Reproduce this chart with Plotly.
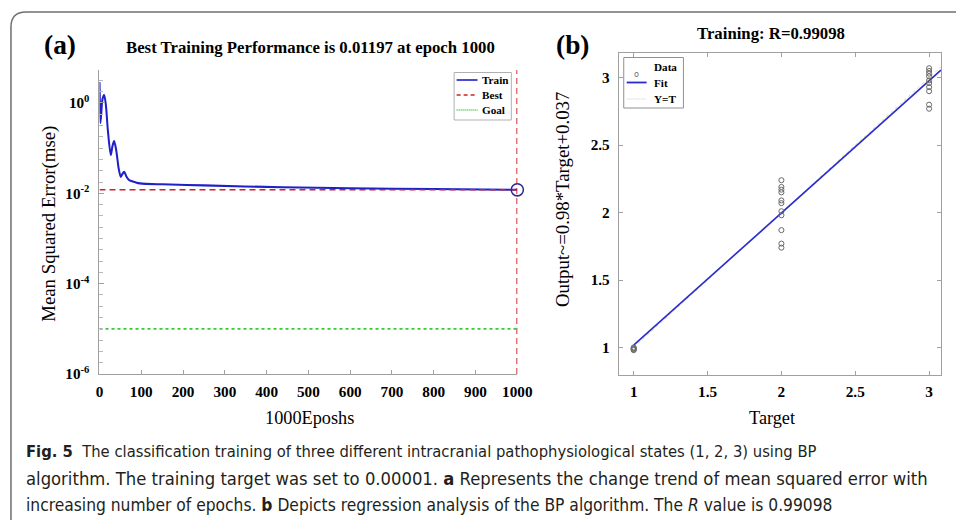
import numpy as np
import plotly.graph_objects as go

# ---------------- data ----------------
# (a) training performance
train_epochs = [0, 1, 2, 4, 7, 11, 15, 20, 27, 31, 35, 40, 46, 51, 55, 59, 64, 70, 76, 86, 97,
                150, 250, 438, 600, 800, 1000]
train_mse = [2.92, 0.9, 0.36, 0.55, 1.2, 1.50, 0.95, 0.25, 0.0705, 0.11, 0.144, 0.09, 0.035,
             0.023, 0.027, 0.030, 0.024, 0.0200, 0.0187, 0.0175, 0.0166,
             0.0158, 0.0150, 0.0136, 0.0129, 0.0124, 0.01197]
best_value = 0.01197
best_epoch = 1000
goal_value = 1e-5
epoch_ticks = [0, 100, 200, 300, 400, 500, 600, 700, 800, 900, 1000]
mse_ticks = [1e-6, 1e-4, 1e-2, 1]
mse_tick_text = ["10<sup>-6</sup>", "10<sup>-4</sup>", "10<sup>-2</sup>", "10<sup>0</sup>"]

# (b) regression
out_t1 = [1.0, 0.995, 0.99, 0.985, 0.98]
out_t2 = [2.24, 2.19, 2.17, 2.15, 2.09, 2.07, 2.01, 1.98, 1.87, 1.77, 1.74]
out_t3 = [3.07, 3.05, 3.03, 3.01, 2.98, 2.96, 2.93, 2.90, 2.80, 2.77]
fit_slope = 0.98
fit_intercept = 0.037
fit_range = [1.0, 3.08]
target_ticks = [1, 1.5, 2, 2.5, 3]
r_value = 0.99098

# layout is designed on a 956x520 grid; S scales sizes to the figure canvas
W, H = 956, 520
S = 971 / 956
FIG_W, FIG_H = 971, 528
SERIF = "Liberation Serif, Times New Roman, serif"
NARROW = "Liberation Sans Narrow, Arial Narrow, DejaVu Sans Condensed, sans-serif"
RED = "#d0202a"


def px(x):
    return x / W


def py(y):
    return 1 - y / H


def sz(v):
    return v * S


fig = go.Figure()

# ---- panel (a) ----
fig.add_trace(go.Scatter(x=train_epochs, y=train_mse, mode="lines",
                         line=dict(color="#2020c8", width=sz(2), shape="spline", smoothing=0.8),
                         xaxis="x", yaxis="y", showlegend=False))
fig.add_trace(go.Scatter(x=[0, best_epoch], y=[best_value, best_value], mode="lines",
                         line=dict(color=RED, width=sz(1.6), dash="6px,4px"),
                         xaxis="x", yaxis="y", showlegend=False))
fig.add_trace(go.Scatter(x=[best_epoch, best_epoch], y=[1e-6, 10 ** 0.73], mode="lines",
                         line=dict(color=RED, width=sz(1.8), dash="6px,4px"), cliponaxis=False,
                         xaxis="x", yaxis="y", showlegend=False))
fig.add_trace(go.Scatter(x=[0, best_epoch], y=[goal_value, goal_value], mode="lines",
                         line=dict(color="#33cc33", width=sz(1.6), dash="dot"),
                         xaxis="x", yaxis="y", showlegend=False))
fig.add_trace(go.Scatter(x=[best_epoch], y=[best_value], mode="markers", cliponaxis=False,
                         marker=dict(symbol="circle-open", size=sz(12), color="#2a2a90",
                                     line=dict(width=sz(1.5), color="#2a2a90")),
                         xaxis="x", yaxis="y", showlegend=False))

# ---- panel (b) ----
targets = [1] * len(out_t1) + [2] * len(out_t2) + [3] * len(out_t3)
outputs = out_t1 + out_t2 + out_t3
fig.add_trace(go.Scatter(x=fit_range, y=fit_range, mode="lines",
                         line=dict(color="#dcdca0", width=1, dash="dot"),
                         xaxis="x2", yaxis="y2", showlegend=False))
fit_x = np.array(fit_range)
fig.add_trace(go.Scatter(x=fit_x, y=fit_slope * fit_x + fit_intercept, mode="lines",
                         line=dict(color="#2b2bd0", width=sz(1.6)),
                         xaxis="x2", yaxis="y2", showlegend=False))
fig.add_trace(go.Scatter(x=targets, y=outputs, mode="markers",
                         marker=dict(symbol="circle-open", size=sz(5), color="#6a6a6a",
                                     line=dict(width=1, color="#6a6a6a")),
                         xaxis="x2", yaxis="y2", showlegend=False))

axis_common = dict(showline=True, linecolor="#a0a0a0", linewidth=1, ticks="inside",
                   tickcolor="#a0a0a0", ticklen=sz(4), showgrid=False, zeroline=False,
                   tickfont=dict(family=SERIF, size=sz(15), color="black", weight="bold"))

fig.update_layout(
    width=FIG_W, height=FIG_H, margin=dict(l=0, r=0, t=0, b=0),
    paper_bgcolor="white", plot_bgcolor="white",
    xaxis=dict(domain=[px(96), px(516)], range=[0, 1000], anchor="y",
               tickvals=epoch_ticks, ticklabelstandoff=4, **axis_common),
    yaxis=dict(domain=[py(374), py(70)], type="log", range=[-6, 0.73], anchor="x",
               tickvals=mse_ticks, ticktext=mse_tick_text, ticklabelstandoff=6,
               minor=dict(ticks="inside", ticklen=sz(3), tickcolor="#b8b8b8",
                          tickvals=[10 ** (k / 4) for k in range(-24, 3)]),
               **axis_common),
    xaxis2=dict(domain=[px(618), px(942)], range=[0.899, 3.081], anchor="y2",
                tickvals=target_ticks, mirror="ticks", ticklabelstandoff=3, **axis_common),
    yaxis2=dict(domain=[py(375), py(53)], range=[0.796, 3.183], anchor="x2",
                tickvals=target_ticks, mirror="ticks", ticklabelstandoff=5, **axis_common),
)

ann = []


def text(x, y, s, size, bold=False, family=SERIF, angle=0, xanchor="center", color="black"):
    ann.append(dict(x=px(x), y=py(y), xref="paper", yref="paper", text=s, showarrow=False,
                    textangle=angle, xanchor=xanchor, yanchor="middle",
                    font=dict(family=family, size=sz(size), color=color,
                              weight="bold" if bold else "normal")))


# panel labels and titles
text(56, 45, "(a)", 27, bold=True)
text(308, 47, f"Best Training Performance is {best_value} at epoch {best_epoch}", 16.5, bold=True)
text(572, 45, "(b)", 27, bold=True)
text(771, 33, f"Training: R={r_value}", 16.5, bold=True)

# axis titles
text(45, 224, "Mean Squared Error(mse)", 18.5, angle=-90)
text(307, 418, "1000Eposhs", 18)
text(562, 200, f"Output~={fit_slope}*Target+{fit_intercept}", 18.5, angle=-90)
text(772, 418, "Target", 18)

# legend (a)
shapes = []
shapes.append(dict(type="rect", xref="paper", yref="paper", x0=px(452.5), x1=px(510),
                   y0=py(120), y1=py(72.5), line=dict(color="#b0b0b0", width=1),
                   fillcolor="white"))
leg_a = [("Train", "#2020c8", "solid", 80), ("Best", RED, "4px,3px", 95),
         ("Goal", "#33cc33", "1px,1px", 110)]
for name, col, dash, yy in leg_a:
    shapes.append(dict(type="line", xref="paper", yref="paper", x0=px(455), x1=px(476),
                       y0=py(yy), y1=py(yy), line=dict(color=col, width=sz(1.6), dash=dash)))
    text(479, yy, name, 11, bold=True, xanchor="left")

# legend (b)
shapes.append(dict(type="rect", xref="paper", yref="paper", x0=px(623), x1=px(683),
                   y0=py(108), y1=py(57.5), line=dict(color="#909090", width=1),
                   fillcolor="white"))
ann.append(dict(x=px(636), y=py(67.5), xref="paper", yref="paper", text="o", showarrow=False,
                font=dict(family="DejaVu Sans", size=sz(8), color="#6a6a6a")))
text(651, 67.5, "Data", 11, bold=True, xanchor="left")
shapes.append(dict(type="line", xref="paper", yref="paper", x0=px(626), x1=px(646),
                   y0=py(82.5), y1=py(82.5), line=dict(color="#2b2bd0", width=sz(1.8))))
text(651, 82.5, "Fit", 11, bold=True, xanchor="left")
shapes.append(dict(type="line", xref="paper", yref="paper", x0=px(626), x1=px(646),
                   y0=py(99), y1=py(99), line=dict(color="#d0d0b0", width=1, dash="1px,1px")))
text(651, 99, "Y=T", 11, bold=True, xanchor="left")

# outer figure frame with rounded top-left corner
fx, fy, r = 7, 12, 15
shapes.append(dict(type="path", xref="paper", yref="paper",
                   path=(f"M {px(fx)},{py(H + 2)} L {px(fx)},{py(fy + r)} "
                         f"Q {px(fx)},{py(fy)} {px(fx + r)},{py(fy)} L {px(W + 2)},{py(fy)}"),
                   line=dict(color="#707070", width=sz(1.5))))

# caption (three lines, each sized to its printed width)
cap = [
    ("<b>Fig. 5</b>  The classification training of three different intracranial "
     "pathophysiological states (1, 2, 3) using BP", 16.2),
    ("algorithm. The training target was set to 0.00001. <b>a</b> Represents the change trend "
     "of mean squared error with", 18),
    ("increasing number of epochs. <b>b</b> Depicts regression analysis of the BP algorithm. "
     "The <i>R</i> value is 0.99098", 17),
]
for i, (line, fsize) in enumerate(cap):
    text(20, 451 + 27 * i, line, fsize, family=NARROW, xanchor="left", color="#231f20")

fig.update_layout(annotations=ann, shapes=shapes)
fig.write_html("out.html")
